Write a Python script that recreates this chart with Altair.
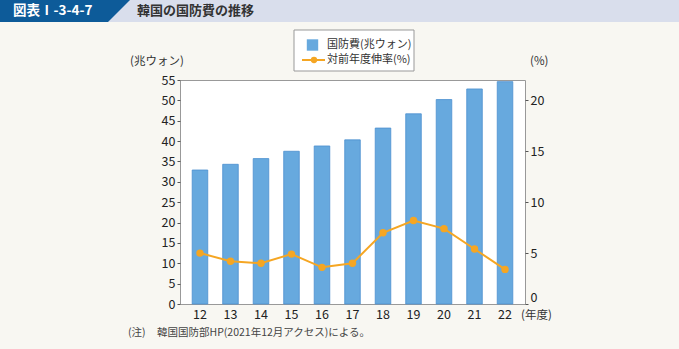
import altair as alt
import pandas as pd

years = ["12", "13", "14", "15", "16", "17", "18", "19", "20", "21", "22"]
budget = [32.9, 34.3, 35.7, 37.5, 38.8, 40.3, 43.2, 46.7, 50.2, 52.8, 54.6]
growth = [5.0, 4.2, 4.0, 4.9, 3.6, 4.0, 7.0, 8.2, 7.4, 5.4, 3.4]

left_ticks = list(range(0, 60, 5))
right_ticks = [0, 5, 10, 15, 20]

header_id = "図表Ⅰ-3-4-7"
header_title = "韓国の国防費の推移"
legend_bar = "国防費(兆ウォン)"
legend_line = "対前年度伸率(%)"
left_unit = "(兆ウォン)"
right_unit = "(%)"
x_unit = "(年度)"
note_head = "(注)"
note_body = "韓国国防部HP(2021年12月アクセス)による。"

FONT = "Noto Sans CJK JP"
BAR = "#67a9de"
BAR_STROKE = "#4b8fcf"
ORANGE = "#f5a623"

df = pd.DataFrame({"year": years, "budget": budget, "growth": growth})
one = alt.Data(values=[{"a": 1}])

xenc = alt.X("year:N", sort=years,
             scale=alt.Scale(paddingInner=0.49, paddingOuter=0.4),
             axis=alt.Axis(title=None, labelAngle=0, ticks=False, domain=False,
                           labelFontSize=12.5, labelColor="#222", labelFont=FONT,
                           labelPadding=4))

bars = alt.Chart(df).mark_bar(color=BAR, stroke=BAR_STROKE, strokeWidth=0.8).encode(
    x=xenc,
    y=alt.Y("budget:Q", scale=alt.Scale(domain=[0, 55], nice=False),
            axis=alt.Axis(title=None, values=left_ticks, grid=False, domain=False,
                          tickSize=3, tickColor="#555", labelFontSize=12.5,
                          labelColor="#222", labelFont=FONT, labelPadding=2)),
)

line = alt.Chart(df).mark_line(
    color=ORANGE, strokeWidth=2,
    point=alt.OverlayMarkDef(color=ORANGE, filled=True, size=55, opacity=1),
).encode(
    x=alt.X("year:N", sort=years),
    y=alt.Y("growth:Q", scale=alt.Scale(domain=[0, 22], nice=False),
            axis=alt.Axis(title=None, orient="right", values=right_ticks, grid=False,
                          domain=False, tickSize=3, tickColor="#555",
                          labelFontSize=12.5, labelColor="#222", labelFont=FONT,
                          labelPadding=2,
                          labelBaseline={"condition": {"test": "datum.value === 0",
                                                       "value": "bottom"},
                                         "value": "middle"})),
)


def rect(x, x2, y, y2, fill, stroke=None):
    kw = dict(fill=fill)
    if stroke:
        kw.update(stroke=stroke, strokeWidth=1)
    return alt.Chart(one).mark_rect(**kw).encode(
        x=alt.value(x), x2=alt.value(x2), y=alt.value(y), y2=alt.value(y2))


def txt(s, x, y, size=11, color="#333", weight="normal", align="left"):
    return alt.Chart(one).mark_text(text=s, font=FONT, fontSize=size, color=color,
                                    fontWeight=weight, align=align,
                                    baseline="middle").encode(
        x=alt.value(x), y=alt.value(y))


header_bg = rect(-180, 499, -80, -58, "#d9deec")
header_blue = rect(-180, -72, -80, -58, "#0d5b99")
header_tri = alt.Chart(one).mark_point(
    shape="M-1,-1 L1,-1 L-1,1 Z", filled=True, color="#0d5b99", opacity=1,
    size=22 * 22, strokeWidth=0).encode(x=alt.value(-61), y=alt.value(-69))
header_t1 = txt(header_id, -167, -69, size=13.5, color="white", weight="bold")
header_t2 = txt(header_title, -43, -69, size=13, color="#333", weight="bold")

leg_box = rect(114, 234, -50, -9, "white", stroke="#999")
leg_sq = alt.Chart(one).mark_square(color=BAR, opacity=1, size=130).encode(
    x=alt.value(132.5), y=alt.value(-35))
leg_ln = alt.Chart(one).mark_rule(color=ORANGE, strokeWidth=2).encode(
    x=alt.value(122), x2=alt.value(145), y=alt.value(-20))
leg_pt = alt.Chart(one).mark_circle(color=ORANGE, opacity=1, size=40).encode(
    x=alt.value(134), y=alt.value(-20))
leg_t1 = txt(legend_bar, 147, -35, size=11, color="#333")
leg_t2 = txt(legend_line, 147, -20, size=11, color="#333")

t_left = txt(left_unit, -50, -18, size=11.5, color="#333")
t_right = txt(right_unit, 350, -18, size=11.5, color="#333")
t_x = txt(x_unit, 341, 236, size=11.5, color="#333")
t_note1 = txt(note_head, -52, 253, size=10.5, color="#444")
t_note2 = txt(note_body, -23, 253, size=10.5, color="#444")

chart = alt.layer(
    bars, line,
    header_bg, header_blue, header_tri, header_t1, header_t2,
    leg_box, leg_sq, leg_ln, leg_pt, leg_t1, leg_t2,
    t_left, t_right, t_x, t_note1, t_note2,
).resolve_scale(y="independent").properties(
    width=345, height=224,
    autosize=alt.AutoSizeParams(type="none"),
    padding={"left": 180, "top": 80, "right": 154, "bottom": 45},
    background="#f8f7f2",
).configure_view(fill="white", stroke="#999", strokeWidth=1)

chart.save("out.html", embed_options={"renderer": "svg", "actions": False})
